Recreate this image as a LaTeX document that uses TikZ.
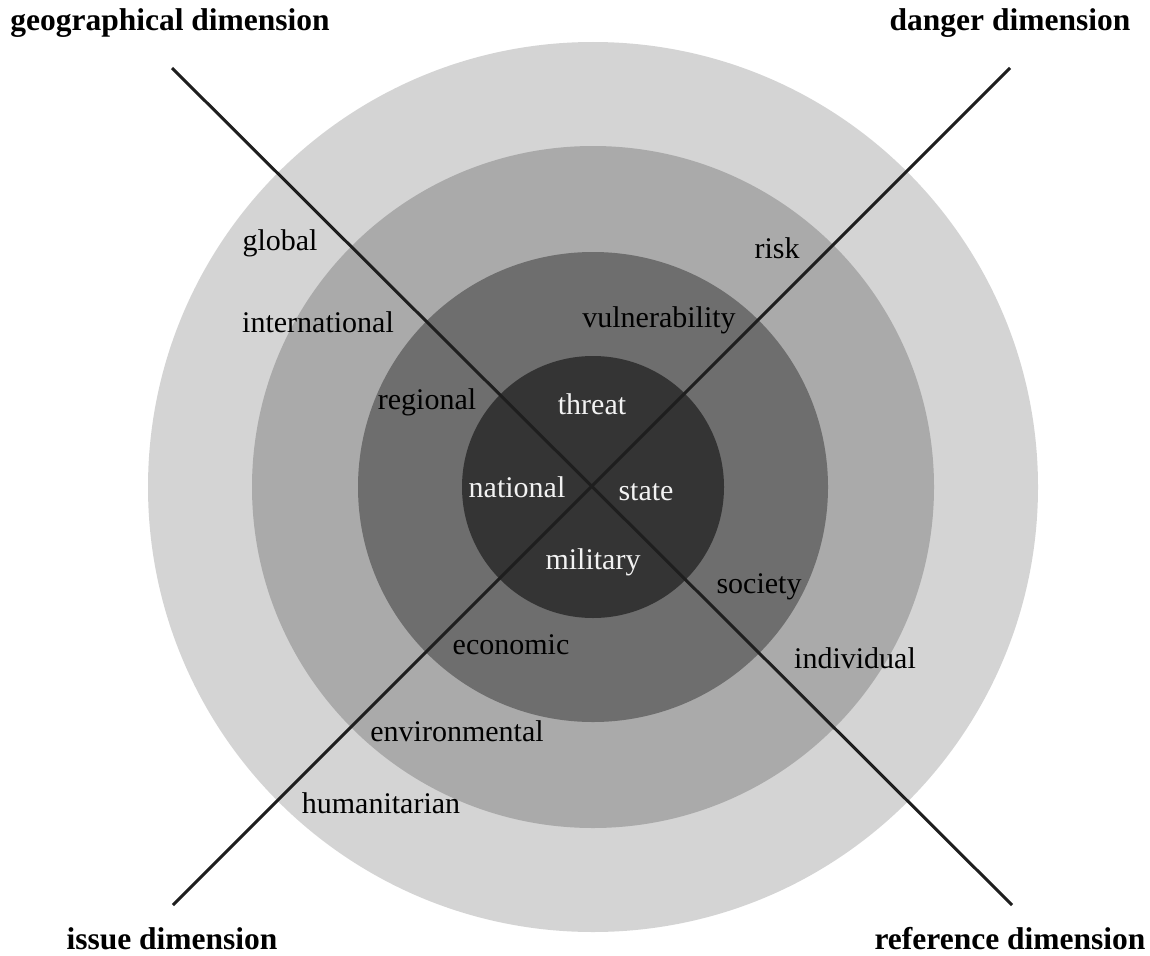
\documentclass[tikz,border=0pt]{standalone}
\usepackage{fontspec}
\setmainfont{Liberation Serif}
\definecolor{ringA}{RGB}{212,212,212}
\definecolor{ringB}{RGB}{170,170,170}
\definecolor{ringC}{RGB}{110,110,110}
\definecolor{ringD}{RGB}{52,52,52}
\definecolor{axisc}{RGB}{30,30,30}
\definecolor{wtext}{RGB}{242,242,242}
\begin{document}
\begin{tikzpicture}[x=1pt,y=-1pt,
  lbl/.style={font=\fontsize{30}{36}\selectfont, text=black, inner sep=0pt, text height=21pt, text depth=6pt},
  wlbl/.style={lbl, text=wtext},
  dimlbl/.style={font=\fontsize{31.5}{38}\selectfont\bfseries, text=black, inner sep=0pt, text height=22pt, text depth=6pt},
  axisline/.style={line width=3pt, draw=axisc}]
\useasboundingbox (0,0) rectangle (1150,955);
\fill[white] (0,0) rectangle (1150,955);
\coordinate (c) at (593,487);
\fill[ringA] (c) circle[radius=445];
\fill[ringB] (c) circle[radius=341];
\fill[ringC] (c) circle[radius=235];
\fill[ringD] (c) circle[radius=131];
\coordinate (tl) at (172,68);
\coordinate (br) at (1012,905);
\coordinate (tr) at (1010,68);
\coordinate (bl) at (173,905);
\draw[axisline] (tl) -- (br);
\draw[axisline] (tr) -- (bl);
% dimension labels
\node[dimlbl] (geo) at (170,23) {geographical dimension};
\node[dimlbl] (dan) at (1010,23) {danger dimension};
\node[dimlbl] (iss) at (172,941) {issue dimension};
\node[dimlbl] (ref) at (1010,941) {reference dimension};
% geographical
\node[lbl] (global) at (280,243) {global};
\node[lbl] (intl) at (318,325) {international};
\node[lbl] (regional) at (427,402) {regional};
\node[wlbl] (national) at (517,490) {national};
% danger
\node[lbl] (risk) at (777,251) {risk};
\node[lbl] (vuln) at (659,320) {vulnerability};
\node[wlbl] (threat) at (592,407) {threat};
% reference
\node[wlbl] (state) at (646,493) {state};
\node[lbl] (society) at (759,586) {society};
\node[lbl] (individual) at (855,661) {individual};
% issue
\node[wlbl] (military) at (593,562) {military};
\node[lbl] (economic) at (511,647) {economic};
\node[lbl] (environ) at (457,734) {environmental};
\node[lbl] (human) at (381,806) {humanitarian};
\end{tikzpicture}
\end{document}
